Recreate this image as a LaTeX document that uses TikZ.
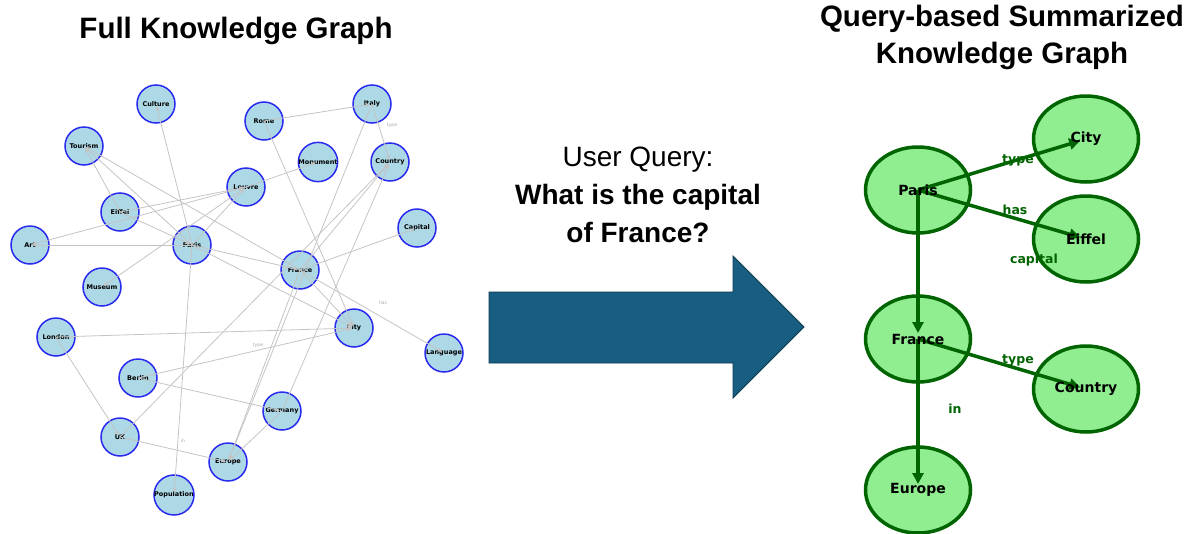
\documentclass[tikz,border=0pt]{standalone}
\usepackage{fontspec}
\setmainfont{Liberation Sans}
\newfontfamily\dejavu{DejaVu Sans}
\usetikzlibrary{arrows.meta,shapes.geometric}

\definecolor{kgblue}{HTML}{ADD8E6}
\definecolor{kgrim}{HTML}{2B2BF0}
\definecolor{kggray}{HTML}{C4C4C4}
\definecolor{qgreen}{HTML}{90EE90}
\definecolor{qdark}{HTML}{006400}
\definecolor{arrowblue}{HTML}{185E82}

\begin{document}
\begin{tikzpicture}[x=1pt, y=-1pt,
        kgnode/.style={circle, draw=kgrim, fill=kgblue, line width=1.5pt, minimum size=38pt, inner sep=0pt, font=\dejavu\bfseries\fontsize{6.5}{7}\selectfont},
        kgedge/.style={draw=kggray, line width=0.8pt, -{Stealth[length=5pt,width=4pt]}, shorten >=2pt},
        kglabel/.style={text=gray!70, font=\dejavu\fontsize{4.5}{5}\selectfont},
        qnode/.style={ellipse, draw=qdark, fill=qgreen, line width=3.5pt, minimum width=105pt, minimum height=86pt},
        qtext/.style={font=\dejavu\bfseries\fontsize{14}{16}\selectfont},
        qedge/.style={draw=qdark, line width=3.5pt, -{Triangle[length=11pt,width=11pt]}, shorten >=6pt},
        qlabel/.style={text=qdark, font=\dejavu\bfseries\fontsize{12.5}{14}\selectfont},
        headtext/.style={font=\bfseries\fontsize{29.5}{37}\selectfont, align=center},
        querytext/.style={font=\fontsize{28}{38}\selectfont, align=center}
    ]
        \useasboundingbox (0,0) rectangle (1199,533);

        % Titles
        \node[headtext] (fulltitle) at (236,31) {Full Knowledge Graph};
        \node[headtext] (sumtitle) at (1002,37) {Query-based Summarized\\Knowledge Graph};

        % Full graph nodes
        \node[kgnode] (culture) at (156,104) {Culture};
        \node[kgnode] (rome) at (264,121) {Rome};
        \node[kgnode] (italy) at (372,104) {Italy};
        \node[kgnode] (tourism) at (84,146) {Tourism};
        \node[kgnode] (monument) at (318,162) {Monument};
        \node[kgnode] (country) at (390,162) {Country};
        \node[kgnode] (louvre) at (246,187) {Louvre};
        \node[kgnode] (eiffel) at (120,212) {Eiffel};
        \node[kgnode] (capital) at (417,228) {Capital};
        \node[kgnode] (art) at (30,245) {Art};
        \node[kgnode] (paris) at (192,245) {Paris};
        \node[kgnode] (france) at (300,270) {France};
        \node[kgnode] (museum) at (102,287) {Museum};
        \node[kgnode] (london) at (56,337) {London};
        \node[kgnode] (city) at (354,328) {City};
        \node[kgnode] (language) at (444,353) {Language};
        \node[kgnode] (berlin) at (138,378) {Berlin};
        \node[kgnode] (germany) at (282,411) {Germany};
        \node[kgnode] (uk) at (120,437) {UK};
        \node[kgnode] (europe) at (228,462) {Europe};
        \node[kgnode] (population) at (174,495) {Population};

        % Full graph edges: Paris
        \draw[kgedge] (paris.center) -- (culture.center);
        \draw[kgedge] (paris.center) -- (tourism.center);
        \draw[kgedge] (paris.center) -- (art.center);
        \draw[kgedge] (paris.center) -- (louvre.center);
        \draw[kgedge] (paris.center) -- (france.center);
        \draw[kgedge] (paris.center) -- (city.center);
        \draw[kgedge] (paris.center) -- (population.center);
        \draw[kgedge] (eiffel.center) -- (tourism.center);
        \draw[kgedge] (eiffel.center) -- (paris.center);
        \draw[kgedge] (eiffel.center) -- (louvre.center);
        \draw[kgedge] (france.center) -- (tourism.center);

        % Louvre
        \draw[kgedge] (louvre.center) -- (art.center);
        \draw[kgedge] (louvre.center) -- (monument.center);
        \draw[kgedge] (louvre.center) -- (museum.center);

        % Italy and Rome
        \draw[kgedge] (rome.center) -- (italy.center);
        \draw[kgedge] (rome.center) -- (city.center);
        \draw[kgedge] (italy.center) -- (country.center);
        \draw[kgedge] (italy.center) -- (europe.center);

        % France
        \draw[kgedge] (france.center) -- (country.center);
        \draw[kgedge] (france.center) -- (capital.center);
        \draw[kgedge] (france.center) -- (city.center);
        \draw[kgedge] (france.center) -- (language.center);
        \draw[kgedge] (france.center) -- (europe.center);

        % Germany, UK
        \draw[kgedge] (germany.center) -- (country.center);
        \draw[kgedge] (germany.center) -- (europe.center);
        \draw[kgedge] (berlin.center) -- (germany.center);
        \draw[kgedge] (berlin.center) -- (city.center);
        \draw[kgedge] (london.center) -- (city.center);
        \draw[kgedge] (london.center) -- (uk.center);
        \draw[kgedge] (uk.center) -- (country.center);
        \draw[kgedge] (uk.center) -- (europe.center);

        % faint relation labels
        \node[kglabel] (lbltype1) at (392,125) {type};
        \node[kglabel] (lblhas) at (383,303) {has};
        \node[kglabel] (lbltype2) at (258,345) {type};
        \node[kglabel] (lblin) at (183,441) {in};

        % Query and arrow
        \node[querytext] (query) at (638,195) {User Query:\\\textbf{What is the capital}\\\textbf{of France?}};
        \draw[fill=arrowblue, draw=arrowblue!60!black, line width=0.8pt]
            (489,292) -- (733,292) -- (733,256) -- (804,327) -- (733,398) -- (733,363) -- (489,363) -- cycle;

        % Summarized graph
        \node[qnode] (qparis) at (918,190) {};
        \node[qnode] (qcity) at (1086,139) {};
        \node[qnode] (qeiffel) at (1086,239) {};
        \node[qnode] (qfrance) at (918,339) {};
        \node[qnode] (qcountry) at (1086,389) {};
        \node[qnode] (qeurope) at (918,490) {};

        \draw[qedge] (qparis.center) -- (qcity.center);
        \draw[qedge] (qparis.center) -- (qeiffel.center);
        \draw[qedge] (qparis.center) -- (qfrance.center);
        \draw[qedge] (qfrance.center) -- (qcountry.center);
        \draw[qedge] (qfrance.center) -- (qeurope.center);

        \node[qlabel] (qltype1) at (1018,160) {type};
        \node[qlabel] (qlhas) at (1015,210) {has};
        \node[qlabel] (qlcapital) at (1034,260) {capital};
        \node[qlabel] (qltype2) at (1018,360) {type};
        \node[qlabel] (qlin) at (955,409) {in};

        \node[qtext] (qparisT) at (qparis) {Paris};
        \node[qtext] (qcityT) at (qcity) {City};
        \node[qtext] (qeiffelT) at (qeiffel) {Eiffel};
        \node[qtext] (qfranceT) at (qfrance) {France};
        \node[qtext] (qcountryT) at (qcountry) {Country};
        \node[qtext] (qeuropeT) at (qeurope) {Europe};
    \end{tikzpicture}
\end{document}
